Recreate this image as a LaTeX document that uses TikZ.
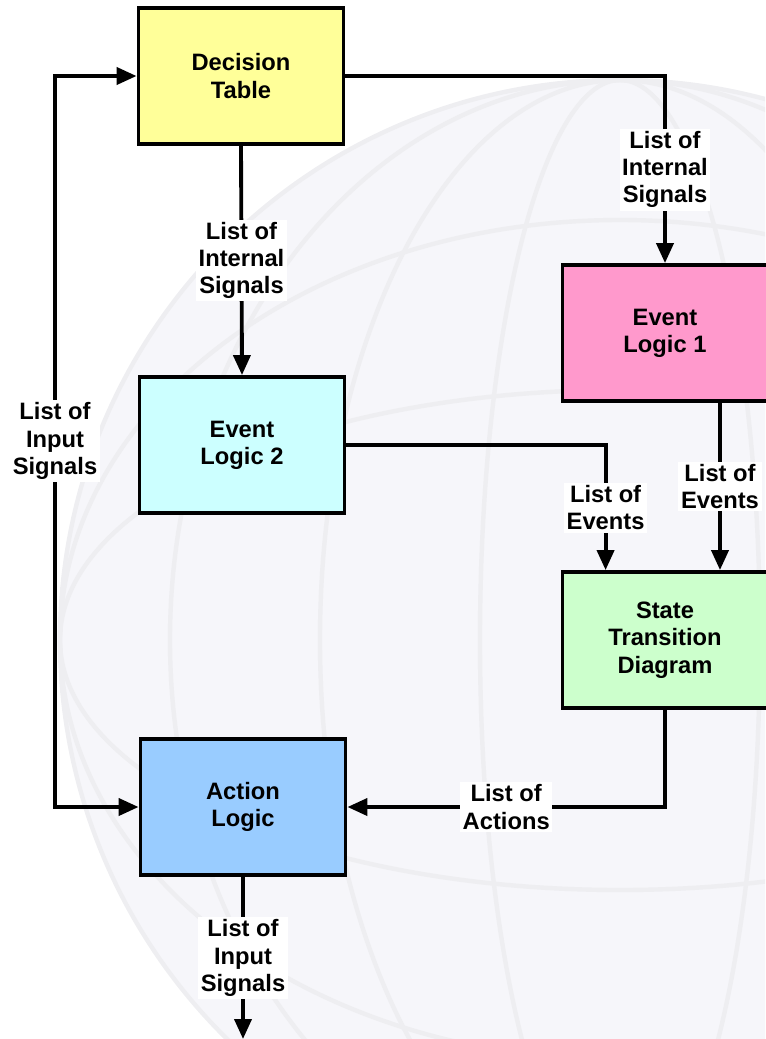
\documentclass[tikz,border=0pt]{standalone}
\usepackage{fontspec}
\setmainfont{Liberation Sans}
\usetikzlibrary{positioning,arrows.meta}
\definecolor{tableYellow}{HTML}{FFFF99}
\definecolor{logicPink}{HTML}{FF99CC}
\definecolor{logicCyan}{HTML}{CCFFFF}
\definecolor{stateGreen}{HTML}{CCFFCC}
\definecolor{actionBlue}{HTML}{99CCFF}
\definecolor{globeTint}{HTML}{F6F6FA}
\definecolor{globeLine}{HTML}{EEEEF1}

\begin{document}
\begin{tikzpicture}[x=0.02cm,y=-0.02cm,
  block/.style={draw,line width=2.2pt,minimum width=4.1cm,minimum height=2.72cm,
    align=center,font=\bfseries\fontsize{13.5}{15.5}\selectfont},
  tag/.style={fill=white,inner sep=1.5pt,align=center,
    font=\bfseries\fontsize{13.5}{15.5}\selectfont},
  flow/.style={line width=2.2pt,-{Triangle[length=0.4cm,width=0.34cm]}}]
  \useasboundingbox (0,0) rectangle (765,1039);
  % faint globe behind the chart
  \begin{scope}
    \clip (0,0) rectangle (765,1039);
    \fill[globeTint] (620,640) circle [radius=560];
    \foreach \rad in {140,300,450}{
      \draw[globeLine,line width=2.5pt] (620,640) ellipse [x radius=\rad, y radius=560];
    }
    \foreach \hgt in {250,420}{
      \draw[globeLine,line width=2.5pt] (620,640) ellipse [x radius=560, y radius=\hgt];
    }
    \draw[globeLine,line width=2.5pt] (620,640) circle [radius=560];
  \end{scope}

  \node[block,fill=tableYellow] (dt) at (241,76) {Decision\\Table};
  \node[block,fill=logicPink] (el1) at (665,333) {Event\\Logic 1};
  \node[block,fill=logicCyan] (el2) at (242,445) {Event\\Logic 2};
  \node[block,fill=stateGreen] (std) at (665,640) {State\\Transition\\Diagram};
  \node[block,fill=actionBlue] (al) at (243,807) {Action\\Logic};

  \node[tag] (inSig) at (55,441) {List of\\Input\\Signals};
  \coordinate (outEnd) at (243,1039);

  \draw[flow] (inSig) |- (dt.west);
  \draw[flow] (inSig) |- (al.west);
  \draw[flow] (dt.east) -| node[tag,pos=0.75] (intA) {List of\\Internal\\Signals} (el1.north);
  \draw[flow] (dt.south) -- node[tag] (intB) {List of\\Internal\\Signals} (el2.north);
  \draw[flow] (el2.east) -| node[tag,pos=0.75] (evB) {List of\\Events} ([xshift=0.9cm]std.north west);
  \draw[flow] ([xshift=1.1cm]el1.south) -- node[tag] (evA) {List of\\Events} ([xshift=1.1cm]std.north);
  \draw[flow] (std.south) |- node[tag,pos=0.75] (act) {List of\\Actions} (al.east);
  \draw[flow] (al.south) -- node[tag] (inOut) {List of\\Input\\Signals} (outEnd);
\end{tikzpicture}
\end{document}
